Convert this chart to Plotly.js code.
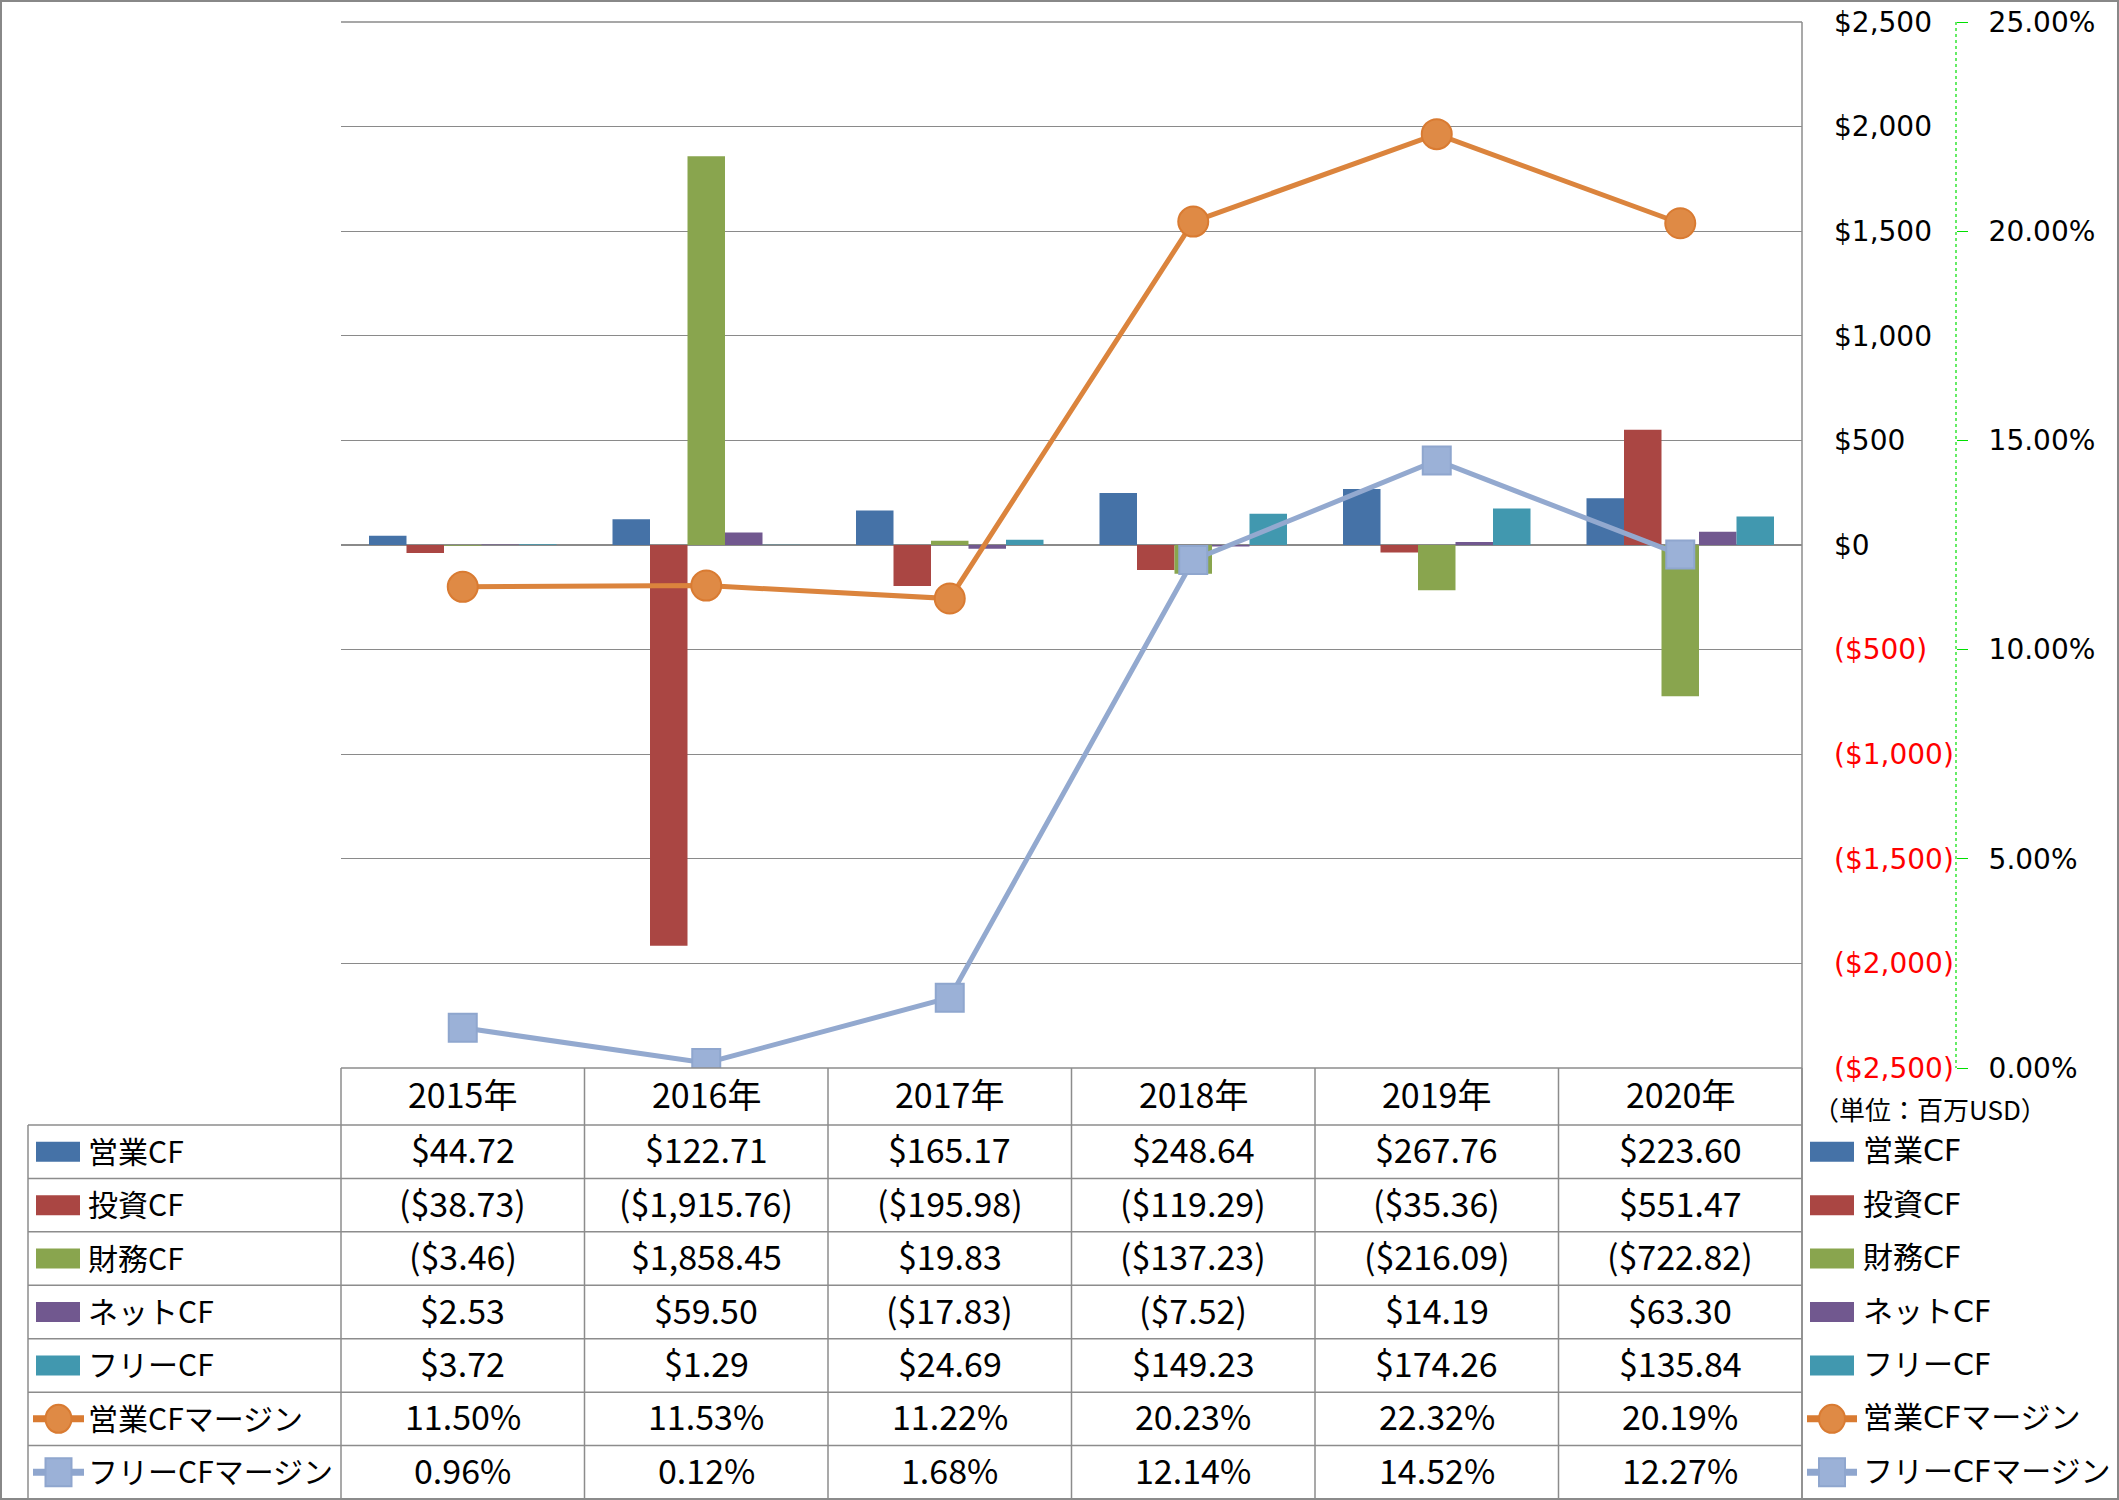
<!DOCTYPE html>
<html>
<head>
<meta charset="utf-8">
<script src="https://cdn.plot.ly/plotly-3.0.1.min.js"></script>
<style>
  html, body { margin: 0; padding: 0; background: #fff; }
  #chart { width: 2119px; height: 1500px; }
</style>
</head>
<body>
<div id="chart"></div>
<script>
// ---------------- DATA ----------------
const categories = ['2015年', '2016年', '2017年', '2018年', '2019年', '2020年'];
const seriesNames = ['営業CF', '投資CF', '財務CF', 'ネットCF', 'フリーCF', '営業CFマージン', 'フリーCFマージン'];
const operatingCF = [44.72, 122.71, 165.17, 248.64, 267.76, 223.60];
const investingCF = [-38.73, -1915.76, -195.98, -119.29, -35.36, 551.47];
const financingCF = [-3.46, 1858.45, 19.83, -137.23, -216.09, -722.82];
const netCF = [2.53, 59.50, -17.83, -7.52, 14.19, 63.30];
const freeCF = [3.72, 1.29, 24.69, 149.23, 174.26, 135.84];
const operatingMargin = [11.50, 11.53, 11.22, 20.23, 22.32, 20.19];
const freeMargin = [0.96, 0.12, 1.68, 12.14, 14.52, 12.27];
const usdTickVals = [-2500, -2000, -1500, -1000, -500, 0, 500, 1000, 1500, 2000, 2500];
const usdTickText = ['($2,500)', '($2,000)', '($1,500)', '($1,000)', '($500)', '$0', '$500', '$1,000', '$1,500', '$2,000', '$2,500'];
const pctTickVals = [0, 5, 10, 15, 20, 25];
const pctTickText = ['0.00%', '5.00%', '10.00%', '15.00%', '20.00%', '25.00%'];
const unitLabel = '（単位：百万USD）';

// ---------------- STYLE ----------------
const barColors = ['#4572A7', '#AA4643', '#89A54E', '#71588F', '#4198AF'];
const orange = '#DB843D';
const lightBlue = '#93A9CF';
const gridColor = '#8A8A8A';
const axisFont = { family: 'DejaVu Sans, Noto Sans CJK JP, sans-serif', size: 28, color: '#000' };
const tableFont = { family: 'Liberation Sans Narrow, Noto Sans CJK JP, sans-serif', size: 34, color: '#000' };
const labelFont = { family: 'Liberation Sans Narrow, Noto Sans CJK JP, sans-serif', size: 30, color: '#000' };
const legendFont = { family: 'DejaVu Sans, Noto Sans CJK JP, sans-serif', size: 30, color: '#000' };

// ---------------- LAYOUT GEOMETRY (pixels) ----------------
const FIG_W = 2119, FIG_H = 1500;
const M = { l: 341, r: 163, t: 22, b: 432 };
const PW = FIG_W - M.l - M.r;      // paper width
const PH = FIG_H - M.t - M.b;      // paper height
const plotRight = 1802;
const px = x => (x - M.l) / PW;
const py = y => (FIG_H - M.b - y) / PH;

const headerTop = 1068, headerBottom = 1125;
const rowH = (1499 - headerBottom) / 7;
const rowTop = i => headerBottom + i * rowH;
const rowMid = i => headerBottom + (i + 0.5) * rowH;
const colW = (plotRight - M.l) / categories.length;
const textShift = -3;

// ---------------- FORMATTERS ----------------
function money(v) {
  const s = Math.abs(v).toLocaleString('en-US', { minimumFractionDigits: 2, maximumFractionDigits: 2 });
  return v < 0 ? '($' + s + ')' : '$' + s;
}
const pct = v => v.toFixed(2) + '%';

// ---------------- TRACES ----------------
const barSeries = [operatingCF, investingCF, financingCF, netCF, freeCF];
const traces = barSeries.map((vals, i) => ({
  type: 'bar', x: categories, y: vals, name: seriesNames[i],
  marker: { color: barColors[i], line: { width: 0 } },
  xaxis: 'x', yaxis: 'y'
}));
traces.push({
  type: 'scatter', mode: 'lines+markers', x: categories, y: operatingMargin, name: seriesNames[5],
  yaxis: 'y2', line: { color: orange, width: 5 },
  marker: { symbol: 'circle', size: 30, color: '#DF8A45', line: { color: '#D97B32', width: 2 } }
});
traces.push({
  type: 'scatter', mode: 'lines+markers', x: categories, y: freeMargin, name: seriesNames[6],
  yaxis: 'y2', line: { color: lightBlue, width: 5 },
  marker: { symbol: 'square', size: 28, color: '#9BB1D7', line: { color: '#8FA6CE', width: 2 } }
});

// ---------------- SHAPES ----------------
const shapes = [];
const lineColor = '#8C8C8C';
function hline(y, x0, x1, color, w, layer) {
  shapes.push({ type: 'line', xref: 'paper', yref: 'paper', x0: px(x0), x1: px(x1), y0: py(y), y1: py(y),
    line: { color: color || lineColor, width: w || 1.5 }, layer: layer || 'above' });
}
function vline(x, y0, y1, color, w, dash) {
  shapes.push({ type: 'line', xref: 'paper', yref: 'paper', x0: px(x), x1: px(x), y0: py(y0), y1: py(y1),
    line: { color: color || lineColor, width: w || 1.5, dash: dash || 'solid' }, layer: 'above' });
}
// outer border
shapes.push({ type: 'rect', xref: 'paper', yref: 'paper', x0: px(1), x1: px(2118), y0: py(1), y1: py(1499),
  line: { color: '#888888', width: 2 }, fillcolor: 'rgba(0,0,0,0)', layer: 'above' });
// top gridline of plot area
hline(M.t, M.l, plotRight, gridColor, 1.3, 'below');
// table
hline(headerTop, M.l, plotRight);
for (let i = 0; i <= 7; i++) hline(rowTop(i), 28, plotRight);
vline(28, headerBottom, 1499);
for (let c = 0; c <= categories.length; c++) vline(M.l + c * colW, headerTop, 1499);
vline(plotRight, M.t, 1499);
// secondary axis dashed line
vline(1956, M.t, headerTop, '#00E000', 1.2, '3px,3px');

// legend symbols (left column and right legend)
function barSwatch(x0, x1, i) {
  const yc = rowMid(i);
  shapes.push({ type: 'rect', xref: 'paper', yref: 'paper', x0: px(x0), x1: px(x1), y0: py(yc - 10), y1: py(yc + 10),
    fillcolor: barColors[i], line: { width: 0 }, layer: 'above' });
}
function lineSwatch(x0, x1, i, color, fill, symbol) {
  const yc = rowMid(i);
  const xc = (x0 + x1) / 2;
  shapes.push({ type: 'line', xref: 'paper', yref: 'paper', x0: px(x0), x1: px(x1), y0: py(yc), y1: py(yc),
    line: { color: color, width: 7 }, layer: 'above' });
  shapes.push({ type: symbol === 'circle' ? 'circle' : 'rect', xref: 'paper', yref: 'paper',
    x0: px(xc - 13), x1: px(xc + 13), y0: py(yc - 14), y1: py(yc + 14),
    fillcolor: fill, line: { color: color, width: 2 }, layer: 'above' });
}
for (let i = 0; i < 5; i++) { barSwatch(36, 80, i); barSwatch(1810, 1854, i); }
lineSwatch(33, 84, 5, '#D97B32', '#DF8A45', 'circle');
lineSwatch(1807, 1857, 5, '#D97B32', '#DF8A45', 'circle');
lineSwatch(33, 84, 6, '#8FA6CE', '#9BB1D7', 'square');
lineSwatch(1807, 1857, 6, '#8FA6CE', '#9BB1D7', 'square');

// ---------------- ANNOTATIONS ----------------
const annotations = [];
const tableRows = [operatingCF, investingCF, financingCF, netCF, freeCF].map(r => r.map(money))
  .concat([operatingMargin.map(pct), freeMargin.map(pct)]);
categories.forEach((c, j) => {
  annotations.push({ xref: 'x', yref: 'paper', x: c, y: py((headerTop + headerBottom) / 2 + textShift), text: c,
    showarrow: false, xanchor: 'center', yanchor: 'middle', font: tableFont });
  tableRows.forEach((row, i) => {
    annotations.push({ xref: 'x', yref: 'paper', x: c, y: py(rowMid(i) + textShift), text: row[j],
      showarrow: false, xanchor: 'center', yanchor: 'middle', font: tableFont });
  });
});
seriesNames.forEach((n, i) => {
  annotations.push({ xref: 'paper', yref: 'paper', x: px(86), y: py(rowMid(i) + textShift + 1), text: n,
    showarrow: false, xanchor: 'left', yanchor: 'middle', font: labelFont });
  annotations.push({ xref: 'paper', yref: 'paper', x: px(1861), y: py(rowMid(i) - 1), text: n,
    showarrow: false, xanchor: 'left', yanchor: 'middle', font: legendFont });
});
annotations.push({ xref: 'paper', yref: 'paper', x: px(1811), y: py(1108), text: unitLabel,
  showarrow: false, xanchor: 'left', yanchor: 'middle',
  font: { family: 'Noto Sans CJK JP, DejaVu Sans, sans-serif', size: 26, color: '#000' } });

// ---------------- LAYOUT ----------------
const layout = {
  width: FIG_W, height: FIG_H,
  margin: M,
  paper_bgcolor: '#ffffff', plot_bgcolor: '#ffffff',
  showlegend: false,
  barmode: 'group', bargap: 0.23, bargroupgap: 0,
  font: axisFont,
  xaxis: {
    domain: [0, px(plotRight)], type: 'category', categoryarray: categories,
    showticklabels: false, ticks: '', showgrid: false, zeroline: false, showline: false, fixedrange: true
  },
  yaxis: {
    side: 'right', range: [-2500, 2500], tickvals: usdTickVals,
    ticktext: usdTickText.map(t => t.startsWith('(') ? '<span style="color:#FF0000">' + t + '</span>' : t),
    ticks: '', ticklabelstandoff: 31, showgrid: true, gridcolor: gridColor, gridwidth: 1.3,
    zeroline: false, showline: false, tickfont: axisFont, fixedrange: true
  },
  yaxis2: {
    overlaying: 'y', side: 'right', anchor: 'free', position: 1, range: [0, 25],
    tickvals: pctTickVals, ticktext: pctTickText,
    ticks: 'outside', ticklen: 11, tickwidth: 1, tickcolor: '#00E000', ticklabelstandoff: 15,
    showgrid: false, zeroline: false, showline: false, tickfont: axisFont, fixedrange: true
  },
  shapes: shapes,
  annotations: annotations
};

Plotly.newPlot('chart', traces, layout, { displayModeBar: false, staticPlot: true });
</script>
</body>
</html>
